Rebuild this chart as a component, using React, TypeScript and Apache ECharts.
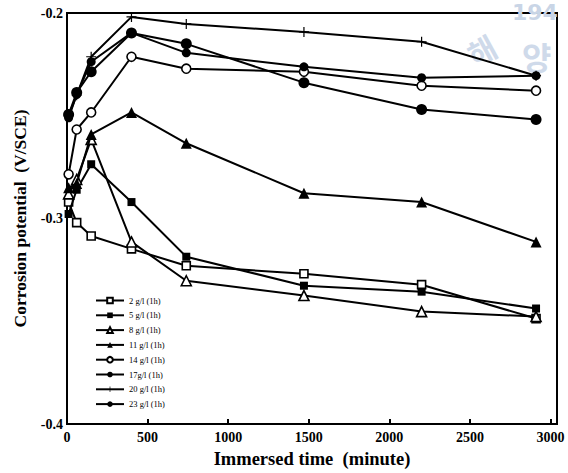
import React, { useEffect, useRef } from "react";
import * as echarts from "echarts";

const times = [10, 60, 150, 400, 740, 1470, 2200, 2910];
const seriesNames = [
  "2 g/l (1h)",
  "5 g/l (1h)",
  "8 g/l (1h)",
  "11 g/l (1h)",
  "14 g/l (1h)",
  "17g/l (1h)",
  "20 g/l (1h)",
  "23 g/l (1h)",
];
const s2 = [-0.292, -0.302, -0.3085, -0.3148, -0.323, -0.3269, -0.3322, -0.3487];
const s5 = [-0.2978, -0.286, -0.2736, -0.292, -0.3186, -0.3327, -0.3356, -0.3438];
const s8 = [-0.288, -0.281, -0.2615, -0.3114, -0.3303, -0.3375, -0.3453, -0.3477];
const s11 = [-0.285, -0.283, -0.2591, -0.2484, -0.2634, -0.2877, -0.292, -0.3114];
const s14 = [-0.2785, -0.2567, -0.2484, -0.2213, -0.2271, -0.2286, -0.2354, -0.2378];
const s17 = [-0.2494, -0.2387, -0.2286, -0.2097, -0.215, -0.2339, -0.247, -0.2518];
const s20 = [-0.25, -0.24, -0.2213, -0.2019, -0.2053, -0.2092, -0.214, -0.2305];
const s23 = [-0.251, -0.2397, -0.2237, -0.2097, -0.2194, -0.2262, -0.2315, -0.2305];
const xTicks = [0, 500, 1000, 1500, 2000, 2500, 3000];
const yTicks = [-0.4, -0.3, -0.2];

const PLUS = "path://M-0.6,-5 H0.6 V-0.6 H5 V0.6 H0.6 V5 H-0.6 V0.6 H-5 V-0.6 H-0.6 Z";

const markers = [
  { symbol: "rect", size: 8, open: true },
  { symbol: "rect", size: 8, open: false },
  { symbol: "triangle", size: 10, open: true },
  { symbol: "triangle", size: 11, open: false },
  { symbol: "circle", size: 9, open: true },
  { symbol: "circle", size: 11, open: false },
  { symbol: PLUS, size: 10, open: false },
  { symbol: "circle", size: 9, open: false },
];
const allData = [s2, s5, s8, s11, s14, s17, s20, s23];

export default function App() {
  const ref = useRef<HTMLDivElement>(null);
  useEffect(() => {
    if (!ref.current) return;
    const chart = echarts.init(ref.current, null, { renderer: "svg" });
    const font = "'Liberation Serif', 'Times New Roman', serif";
    const series = allData.map((d, i) => ({
      name: seriesNames[i],
      type: "line",
      data: d.map((v, j) => [times[j], v]),
      symbol: markers[i].symbol,
      symbolSize: markers[i].size,
      showAllSymbol: true,
      lineStyle: { color: "#000", width: 2 },
      itemStyle: {
        color: markers[i].open ? "#fff" : "#000",
        borderColor: "#000",
        borderWidth: markers[i].open ? 1.6 : 0,
      },
      z: 3 + i,
    }));
    chart.setOption({
      animation: false,
      backgroundColor: "#fff",
      grid: {
        left: 67,
        right: 11,
        top: 13,
        bottom: 47,
        show: true,
        borderColor: "#000",
        borderWidth: 2,
      },
      graphic: [
        {
          type: "text",
          left: 512,
          top: 1,
          z: 0,
          style: {
            text: "194",
            fill: "#c9d5e6",
            font: "bold 22px 'DejaVu Sans', sans-serif",
          },
        },
        {
          type: "text",
          left: 462,
          top: 30,
          z: 0,
          rotation: 0.5,
          style: {
            text: "해",
            fill: "#cfdaea",
            font: "bold 30px 'Noto Sans CJK KR', sans-serif",
          },
        },
        {
          type: "text",
          left: 522,
          top: 40,
          z: 0,
          style: {
            text: "양",
            fill: "#cfdaea",
            font: "bold 32px 'Noto Sans CJK KR', sans-serif",
          },
        },
      ],
      legend: {
        orient: "vertical",
        left: 90,
        top: 291,
        itemWidth: 28,
        itemHeight: 7,
        itemGap: 5.8,
        data: seriesNames,
        textStyle: { fontFamily: font, fontSize: 8.5, color: "#000" },
      },
      xAxis: {
        type: "value",
        min: 0,
        max: 3040,
        interval: 500,
        name: "Immersed time  (minute)",
        nameLocation: "middle",
        nameGap: 25,
        nameTextStyle: { fontFamily: font, fontSize: 18.5, fontWeight: "bold", color: "#000" },
        axisLine: { lineStyle: { color: "#000", width: 2 } },
        axisTick: { inside: true, length: 5, lineStyle: { color: "#000", width: 2 } },
        axisLabel: {
          showMaxLabel: false,
          fontFamily: font,
          fontSize: 14,
          fontWeight: "bold",
          color: "#000",
          margin: 6,
          formatter: (v: number) => (xTicks.includes(v) ? String(v) : ""),
        },
        splitLine: { show: false },
      },
      yAxis: {
        type: "value",
        min: -0.4,
        max: -0.2,
        interval: 0.1,
        name: "Corrosion potential  (V/SCE)",
        nameLocation: "middle",
        nameGap: 38,
        nameRotate: 90,
        nameTextStyle: { fontFamily: font, fontSize: 17.5, fontWeight: "bold", color: "#000" },
        axisLine: { lineStyle: { color: "#000", width: 2 } },
        axisTick: { show: false },
        axisLabel: {
          fontFamily: font,
          fontSize: 14,
          fontWeight: "bold",
          color: "#000",
          margin: 4,
          formatter: (v: number) => {
            const t = yTicks.find((y) => Math.abs(y - v) < 1e-6);
            return t !== undefined ? t.toFixed(1) : "";
          },
        },
        splitLine: { show: false },
      },
      series,
    });
    return () => chart.dispose();
  }, []);
  return (
    <div
      ref={ref}
      style={{ position: "fixed", left: 0, top: 0, width: 568, height: 473 }}
    />
  );
}
